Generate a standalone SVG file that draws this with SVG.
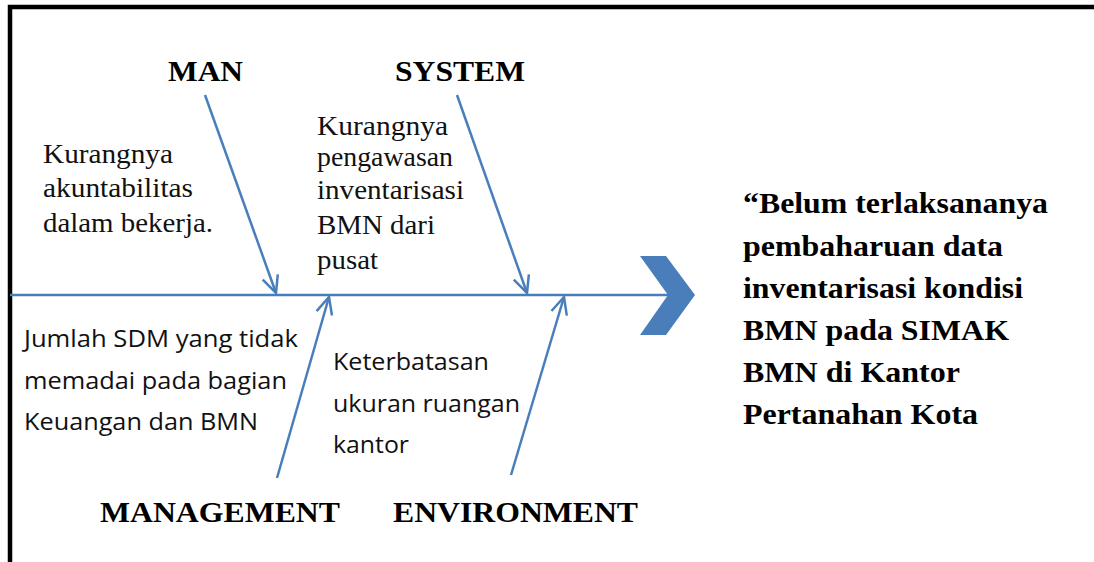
<svg xmlns="http://www.w3.org/2000/svg" width="1094" height="562" viewBox="0 0 1094 562">
<style>
.hdr{font-family:"Liberation Serif","Times New Roman",serif;font-weight:bold;font-size:30px;fill:#000}
.ser{font-family:"Liberation Serif","Times New Roman",serif;font-size:27px;fill:#111}
.sans{font-family:"Open Sans","Liberation Sans",Arial,sans-serif;font-size:23.5px;fill:#111}
.eff{font-family:"Liberation Serif","Times New Roman",serif;font-weight:bold;font-size:30px;fill:#000}
.bone{stroke:#4a7ebb;stroke-width:2.5;fill:none}
</style>
<defs>
<marker id="ah" markerUnits="userSpaceOnUse" markerWidth="24" markerHeight="24" viewBox="-20 -12 24 24" refX="0" refY="0" orient="auto">
<path d="M-17,-8 L0,0 L-17,8" fill="none" stroke="#4a7ebb" stroke-width="2.5"/>
</marker>
</defs>
<rect width="1094" height="562" fill="#fff"/>
<path d="M10,562 V7 H1094" fill="none" stroke="#000" stroke-width="4.5"/>
<g id="connectors">
<line class="bone" x1="10" y1="295" x2="668" y2="295"/>
<line class="bone" x1="205" y1="95" x2="276" y2="293" marker-end="url(#ah)"/>
<line class="bone" x1="457" y1="95" x2="527" y2="293" marker-end="url(#ah)"/>
<line class="bone" x1="277" y1="478" x2="329" y2="297" marker-end="url(#ah)"/>
<line class="bone" x1="511" y1="475" x2="564" y2="297" marker-end="url(#ah)"/>
</g>
<g id="head">
<polygon points="640,256 666,256 695,295 666,335 640,335 668,295" fill="#4a7ebb"/>
</g>
<g id="man">
<text class="hdr" x="168" y="81" textLength="75" lengthAdjust="spacingAndGlyphs">MAN</text>
<text class="ser" x="43" y="163" textLength="130" lengthAdjust="spacingAndGlyphs">Kurangnya</text>
<text class="ser" x="43" y="197" textLength="150" lengthAdjust="spacingAndGlyphs">akuntabilitas</text>
<text class="ser" x="43" y="232" textLength="170" lengthAdjust="spacingAndGlyphs">dalam bekerja.</text>
</g>
<g id="system">
<text class="hdr" x="395" y="81" textLength="130" lengthAdjust="spacingAndGlyphs">SYSTEM</text>
<text class="ser" x="317" y="135" textLength="131" lengthAdjust="spacingAndGlyphs">Kurangnya</text>
<text class="ser" x="317" y="166" textLength="136" lengthAdjust="spacingAndGlyphs">pengawasan</text>
<text class="ser" x="317" y="199" textLength="147" lengthAdjust="spacingAndGlyphs">inventarisasi</text>
<text class="ser" x="317" y="234" textLength="118" lengthAdjust="spacingAndGlyphs">BMN dari</text>
<text class="ser" x="317" y="269" textLength="61" lengthAdjust="spacingAndGlyphs">pusat</text>
</g>
<g id="management">
<text class="hdr" x="100" y="522" textLength="240" lengthAdjust="spacingAndGlyphs">MANAGEMENT</text>
<text class="sans" x="24" y="347" textLength="274" lengthAdjust="spacingAndGlyphs">Jumlah SDM yang tidak</text>
<text class="sans" x="24" y="389" textLength="263" lengthAdjust="spacingAndGlyphs">memadai pada bagian</text>
<text class="sans" x="24" y="430" textLength="234" lengthAdjust="spacingAndGlyphs">Keuangan dan BMN</text>
</g>
<g id="environment">
<text class="hdr" x="393" y="522" textLength="245" lengthAdjust="spacingAndGlyphs">ENVIRONMENT</text>
<text class="sans" x="333" y="370" textLength="156" lengthAdjust="spacingAndGlyphs">Keterbatasan</text>
<text class="sans" x="333" y="412" textLength="187" lengthAdjust="spacingAndGlyphs">ukuran ruangan</text>
<text class="sans" x="333" y="453" textLength="76" lengthAdjust="spacingAndGlyphs">kantor</text>
</g>
<g id="effect">
<text class="eff" x="743" y="213" textLength="305" lengthAdjust="spacingAndGlyphs">“Belum terlaksananya</text>
<text class="eff" x="743" y="256" textLength="260" lengthAdjust="spacingAndGlyphs">pembaharuan data</text>
<text class="eff" x="743" y="298" textLength="280" lengthAdjust="spacingAndGlyphs">inventarisasi kondisi</text>
<text class="eff" x="743" y="340" textLength="266" lengthAdjust="spacingAndGlyphs">BMN pada SIMAK</text>
<text class="eff" x="743" y="382" textLength="217" lengthAdjust="spacingAndGlyphs">BMN di Kantor</text>
<text class="eff" x="743" y="424" textLength="235" lengthAdjust="spacingAndGlyphs">Pertanahan Kota</text>
</g>
</svg>
